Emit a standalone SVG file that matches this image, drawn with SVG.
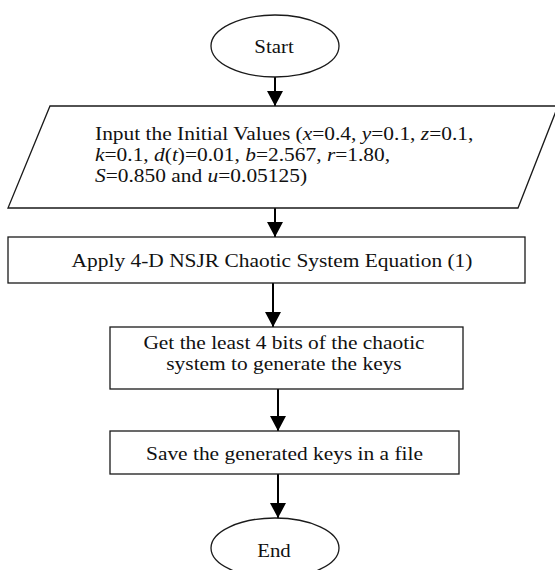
<svg xmlns="http://www.w3.org/2000/svg" width="555" height="570" viewBox="0 0 555 570">
  <style>
    .shape { fill: #ffffff; stroke: #1a1a1a; stroke-width: 1.3; }
    .label { font-family: "Liberation Serif", "Times New Roman", serif; font-size: 19.3px; fill: #111111; }
    .mid { text-anchor: middle; }
    .conn { stroke: #000000; stroke-width: 2; fill: none; marker-end: url(#head); }
    .it { font-style: italic; }
  </style>
  <defs>
    <marker id="head" markerUnits="userSpaceOnUse" markerWidth="16" markerHeight="16" refX="15" refY="8" orient="auto">
      <path d="M0,0 L15,8 L0,16 Z" fill="#000000"/>
    </marker>
  </defs>
  <rect width="555" height="570" fill="#ffffff"/>

  <!-- connectors -->
  <g id="connectors">
    <line class="conn" x1="275" y1="77" x2="275" y2="106"/>
    <line class="conn" x1="275" y1="208" x2="275" y2="237"/>
    <line class="conn" x1="273" y1="283" x2="273" y2="327"/>
    <line class="conn" x1="278" y1="389" x2="278" y2="431"/>
    <line class="conn" x1="278" y1="474" x2="278" y2="518"/>
  </g>

  <!-- labels use a slightly widened serif face -->
  <g id="start">
    <ellipse class="shape" cx="275" cy="46" rx="64" ry="31"/>
    <text class="label mid" transform="translate(274,53) scale(1.08,1)">Start</text>
  </g>

  <g id="input">
    <polygon class="shape" points="50,106 558,106 518,208 8,208"/>
    <text class="label" transform="translate(95,140) scale(1.11,1)">Input the Initial Values (<tspan class="it">x</tspan>=0.4, <tspan class="it">y</tspan>=0.1, <tspan class="it">z</tspan>=0.1,</text>
    <text class="label" transform="translate(95,161) scale(1.11,1)"><tspan class="it">k</tspan>=0.1, <tspan class="it">d</tspan>(<tspan class="it">t</tspan>)=0.01, <tspan class="it">b</tspan>=2.567, <tspan class="it">r</tspan>=1.80,</text>
    <text class="label" transform="translate(95,182) scale(1.11,1)"><tspan class="it">S</tspan>=0.850 and <tspan class="it">u</tspan>=0.05125)</text>
  </g>

  <g id="apply">
    <rect class="shape" x="8" y="237" width="517" height="46"/>
    <text class="label mid" transform="translate(272,267) scale(1.11,1)">Apply 4-D NSJR Chaotic System Equation (1)</text>
  </g>

  <g id="extract">
    <rect class="shape" x="110" y="327" width="353" height="62"/>
    <text class="label mid" transform="translate(284,349) scale(1.11,1)">Get the least 4 bits of the chaotic</text>
    <text class="label mid" transform="translate(284,370) scale(1.11,1)">system to generate the keys</text>
  </g>

  <g id="save">
    <rect class="shape" x="110" y="431" width="349" height="43"/>
    <text class="label mid" transform="translate(284.5,460) scale(1.11,1)">Save the generated keys in a file</text>
  </g>

  <g id="end">
    <ellipse class="shape" cx="275" cy="548" rx="64" ry="30"/>
    <text class="label mid" transform="translate(274,557) scale(1.08,1)">End</text>
  </g>
</svg>
